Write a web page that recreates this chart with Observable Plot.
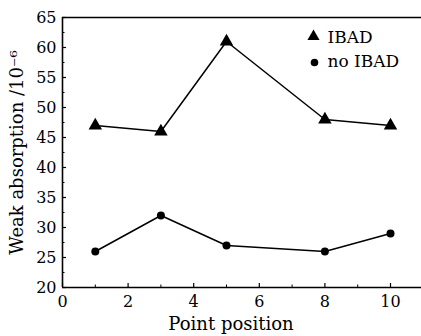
<!DOCTYPE html>
<html>
<head>
<meta charset="utf-8">
<script src="https://cdn.jsdelivr.net/npm/d3@7"></script>
<script src="https://cdn.jsdelivr.net/npm/@observablehq/plot@0.6"></script>
<style>
  html, body { margin: 0; padding: 0; background: #fff; }
  svg { display: block; }
</style>
</head>
<body>
<div id="chart"></div>
<script>
const positions = [1, 3, 5, 8, 10];
const ibad = [47, 46, 61, 48, 47];
const noIbad = [26, 32, 27, 26, 29];
const xTicks = [0, 2, 4, 6, 8, 10];
const xMinor = [1, 3, 5, 7, 9];
const yTicks = [20, 25, 30, 35, 40, 45, 50, 55, 60, 65];
const yMinor = [22.5, 27.5, 32.5, 37.5, 42.5, 47.5, 52.5, 57.5, 62.5];
const legendLabels = ["IBAD", "no IBAD"];

const ibadData = positions.map((p, i) => ({x: p, y: ibad[i]}));
const noData = positions.map((p, i) => ({x: p, y: noIbad[i]}));

const font = "'DejaVu Serif', serif";

const chart = Plot.plot({
  width: 421,
  height: 336,
  marginLeft: 62,
  marginTop: 17,
  marginBottom: 49,
  marginRight: 0,
  style: {fontFamily: font, background: "#fff", color: "#000"},
  x: {domain: [0, 10.945]},
  y: {domain: [20, 65]},
  marks: [
    Plot.ruleY([20, 65], {stroke: "#000", strokeWidth: 1.6}),
    Plot.ruleX([0], {stroke: "#000", strokeWidth: 1.6}),
    Plot.axisY({ticks: yTicks, tickSize: -4, tickPadding: 10, fontSize: 16, label: null, stroke: "#000", strokeWidth: 1.2}),
    Plot.axisY({ticks: yMinor, tickSize: -2.5, text: null, label: null, stroke: "#000", strokeWidth: 1}),
    Plot.axisX({ticks: xTicks, tickSize: -4, tickPadding: 12, fontSize: 16, label: null, stroke: "#000", strokeWidth: 1.2}),
    Plot.axisX({ticks: xMinor, tickSize: -2.5, text: null, label: null, stroke: "#000", strokeWidth: 1}),
    Plot.line(ibadData, {x: "x", y: "y", stroke: "#000", strokeWidth: 1.5}),
    Plot.line(noData, {x: "x", y: "y", stroke: "#000", strokeWidth: 1.5}),
    Plot.dot(ibadData, {x: "x", y: "y", symbol: "triangle", r: 5, fill: "#000"}),
    Plot.dot(noData, {x: "x", y: "y", symbol: "circle", r: 4, fill: "#000"}),
    // legend
    Plot.dot([legendLabels[0]], {frameAnchor: "top-left", dx: 251, dy: 19, symbol: "triangle", r: 4.5, fill: "#000"}),
    Plot.dot([legendLabels[1]], {frameAnchor: "top-left", dx: 252, dy: 45, symbol: "circle", r: 3.8, fill: "#000"}),
    Plot.text([legendLabels[0]], {text: d => d, frameAnchor: "top-left", dx: 265, dy: 20, textAnchor: "start", lineAnchor: "middle", fontSize: 17, fill: "#000"}),
    Plot.text([legendLabels[1]], {text: d => d, frameAnchor: "top-left", dx: 265, dy: 44, textAnchor: "start", lineAnchor: "middle", fontSize: 17, fill: "#000"}),
    // axis titles
    Plot.text(["Point position"], {text: d => d, frameAnchor: "bottom", dx: -11, dy: 37, textAnchor: "middle", lineAnchor: "middle", fontSize: 18, fill: "#000"}),
    Plot.text(["Weak absorption /10⁻⁶"], {text: d => d, frameAnchor: "left", dx: -45, dy: 0, rotate: -90, textAnchor: "middle", lineAnchor: "middle", fontSize: 18, fill: "#000"})
  ]
});
document.getElementById("chart").appendChild(chart);
</script>
</body>
</html>
